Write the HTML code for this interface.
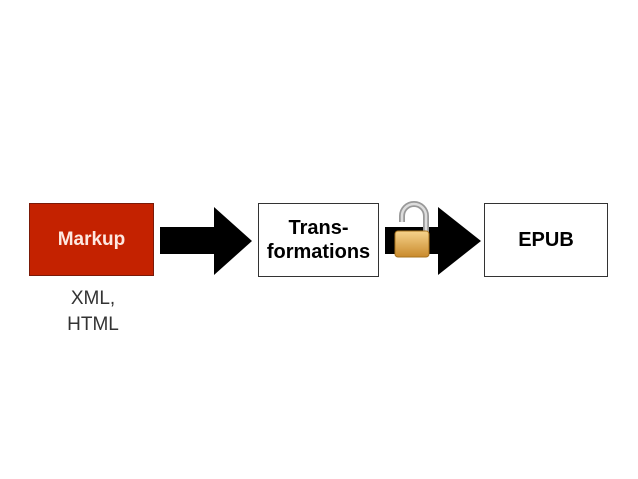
<!DOCTYPE html>
<html><head><style>
body{margin:0;width:638px;height:479px;background:#fff;position:relative;overflow:hidden;font-family:"Liberation Sans",sans-serif}
.b{position:absolute;box-sizing:border-box;display:flex;align-items:center;justify-content:center;text-align:center;font-weight:bold;font-size:20px;line-height:24px}
</style></head><body>
<div class="b" style="left:29px;top:203px;width:125px;height:73px;background:#c42200;border:1px solid #7a1a08;color:#fde8e0;font-size:19px">Markup</div>
<div class="b" style="left:258px;top:203px;width:121px;height:74px;border:1px solid #333;color:#000">Trans-<br>formations</div>
<div class="b" style="left:484px;top:203px;width:124px;height:74px;border:1px solid #333;color:#000">EPUB</div>
<div style="position:absolute;left:0;top:286px;width:186px;text-align:center;font-size:19px;line-height:26px;color:#333">XML,<br>HTML</div>
<svg width="638" height="479" style="position:absolute;left:0;top:0">
<polygon points="160,227 214,227 214,207 252,241 214,275 214,254 160,254" fill="#000"/>
<polygon points="385,227 438,227 438,207 481,241 438,275 438,254 385,254" fill="#000"/>
<defs><linearGradient id="g" x1="0" y1="0" x2="0" y2="1"><stop offset="0" stop-color="#f6d38c"/><stop offset="1" stop-color="#c98a2c"/></linearGradient></defs>
<path d="M402,222 V216 a12,12 0 0 1 24,0 V233" fill="none" stroke="#999" stroke-width="6"/>
<path d="M402,222 V216 a12,12 0 0 1 24,0 V233" fill="none" stroke="#ddd" stroke-width="2.5"/>
<rect x="395" y="231" width="34" height="26" rx="3" fill="url(#g)" stroke="#a8731e"/>
</svg>
</body></html>
